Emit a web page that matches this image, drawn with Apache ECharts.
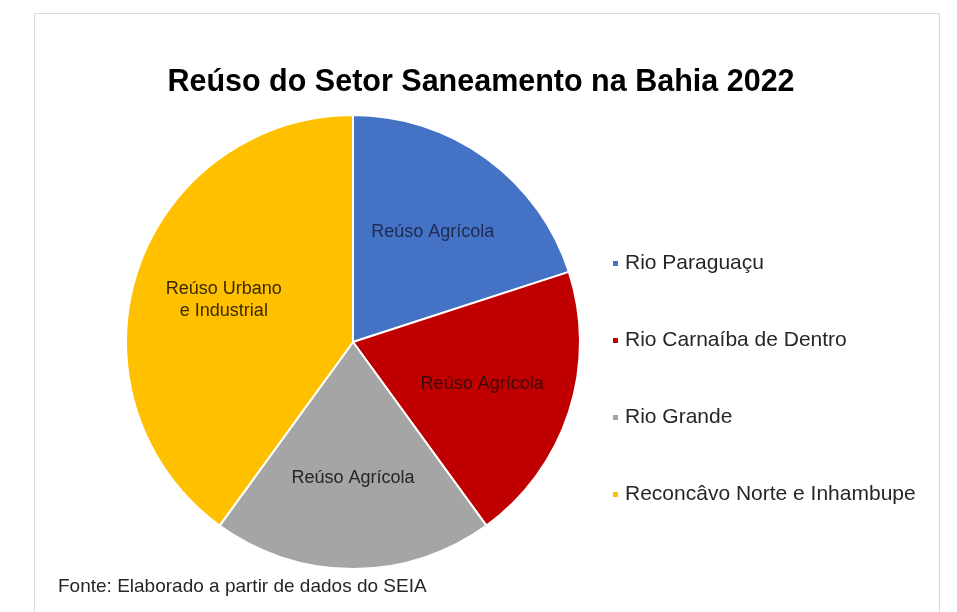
<!DOCTYPE html>
<html><head><meta charset="utf-8">
<script src="https://cdn.jsdelivr.net/npm/echarts@6/dist/echarts.min.js"></script>
<style>html,body{margin:0;padding:0;background:#fff}#c{width:957px;height:612px}</style>
</head><body><div id="c"></div>
<script>
const categories = ['Rio Paraguaçu', 'Rio Carnaíba de Dentro', 'Rio Grande', 'Reconcâvo Norte e Inhambupe'];
const values = [1, 1, 1, 2];
const sliceLabels = ['Reúso Agrícola', 'Reúso Agrícola', 'Reúso Agrícola', 'Reúso Urbano\ne Industrial'];
const colors = ['#4472C4', '#C00000', '#A5A5A5', '#FFC000'];
const labelColors = ['#1d2b55', '#3a0a0a', '#262626', '#3a2a00'];

const chart = echarts.init(document.getElementById('c'));
const font = 'Liberation Sans, Arial, sans-serif';
const R = 227;
chart.setOption({
  animation: false,
  title: {
    text: 'Reúso do Setor Saneamento na Bahia 2022',
    left: 476, top: 62, textAlign: 'center',
    textStyle: { fontFamily: font, fontSize: 30.5, fontWeight: 'bold', color: '#000' }
  },
  graphic: [
    { type: 'rect', shape: { x: 34.5, y: 13.5, width: 905, height: 620 }, style: { fill: 'none', stroke: '#d9d9d9', lineWidth: 1 }, z: -10 },
    { type: 'text', left: 58, top: 577, style: { text: 'Fonte: Elaborado a partir de dados do SEIA', font: '19px Liberation Sans, Arial, sans-serif', fill: '#262626' } }
  ],
  legend: {
    orient: 'vertical', left: 606, top: 248, itemGap: 56,
    itemWidth: 7, itemHeight: 7, icon: 'rect',
    textStyle: { fontFamily: font, fontSize: 21, color: '#262626', padding: [0,0,0,1] },
    data: categories.map((n, i) => ({ name: n, itemStyle: { color: colors[i] } }))
  },
  series: [
    {
      type: 'pie', center: [353, 342], radius: [0, R], startAngle: 90, clockwise: true,
      itemStyle: { borderColor: '#fff', borderWidth: 2 },
      label: { show: false }, labelLine: { show: false },
      data: categories.map((n, i) => ({ name: n, value: values[i], itemStyle: { color: colors[i] } }))
    },
    {
      type: 'pie', center: [353, 342], radius: [0, R * 1.17], startAngle: 90, clockwise: true,
      silent: true, z: 5, legendHoverLink: false,
      itemStyle: { color: 'rgba(0,0,0,0)', borderWidth: 0 },
      label: { show: true, position: 'inside', fontFamily: font, fontSize: 18, lineHeight: 22,
        formatter: p => sliceLabels[p.dataIndex] },
      labelLine: { show: false },
      data: categories.map((n, i) => ({ name: n, value: values[i], label: { color: labelColors[i] } }))
    }
  ]
});
</script></body></html>
